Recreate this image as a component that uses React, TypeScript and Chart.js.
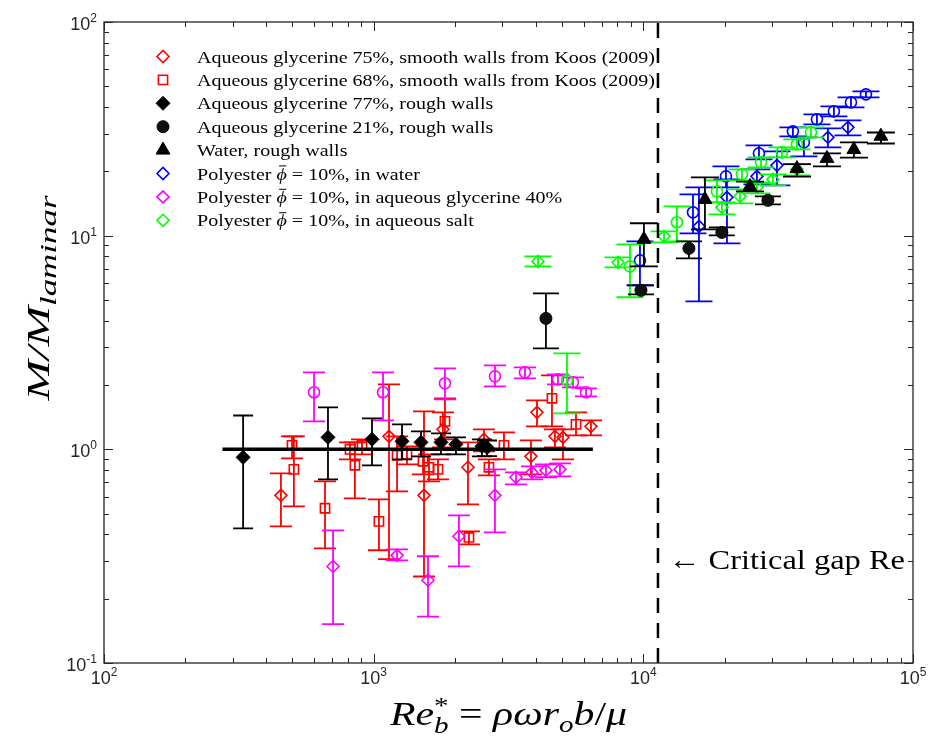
import React, { useEffect, useRef } from 'react';
import { Chart, registerables } from 'chart.js';
Chart.register(...registerables);

// ---------------- DATA ----------------
// Aqueous glycerine 75%, smooth walls (Koos 2009) – open red diamonds
const redDiamondX = [453, 1140, 1537, 1807, 2237, 2564, 3831, 4033, 4702, 5035, 6394];
const redDiamondY = [0.609, 1.15, 0.609, 1.24, 0.824, 1.114, 0.927, 1.49, 1.15, 1.138, 1.281];
const redDiamondLo = [0.436, 0.306, 0.254, 1.022, 0.553, 0.979, 0.764, 1.281, 1.022, 0.898, 1.163];
const redDiamondHi = [0.772, 2.015, 1.506, 1.49, 1.078, 1.24, 1.102, 1.696, 1.24, 1.24, 1.367];

// Aqueous glycerine 68%, smooth walls (Koos 2009) – open red squares
const redSquareX = [498, 506, 660, 817, 852, 905, 1046, 1221, 1329, 1524, 1604, 1732, 1838, 2256, 2676, 3042, 4583, 5627];
const redSquareY = [1.044, 0.806, 0.53, 1.0, 0.842, 1.044, 0.46, 0.937, 0.947, 0.879, 0.824, 0.806, 1.352, 0.387, 0.824, 1.044, 1.733, 1.309];
const redSquareLo = [0.908, 0.541, 0.344, 0.898, 0.59, 0.947, 0.337, 0.636, 0.851, 0.764, 0.708, 0.724, 1.114, 0.359, 0.756, 0.898, 1.281, 1.163];
const redSquareHi = [1.15, 1.15, 0.708, 1.078, 1.078, 1.114, 0.583, 1.15, 1.033, 1.0, 0.947, 0.898, 1.733, 0.413, 0.898, 1.201, 2.22, 1.49];

// Aqueous glycerine 77%, rough walls – filled black diamonds
const blackDiamondX = [328, 677, 986, 1274, 1498, 1777, 2019, 2521, 2632];
const blackDiamondY = [0.917, 1.138, 1.114, 1.09, 1.078, 1.078, 1.055, 1.033, 1.02];
const blackDiamondLo = [0.427, 0.724, 0.842, 0.898, 0.927, 0.947, 0.947, 0.927, 0.93];
const blackDiamondHi = [1.44, 1.572, 1.397, 1.309, 1.214, 1.188, 1.138, 1.114, 1.1];

// Aqueous glycerine 21%, rough walls – filled black circles
const blackCircleX = [4353, 9800, 14760, 19550, 28970];
const blackCircleY = [4.1, 5.55, 8.72, 10.36, 14.63];
const blackCircleLo = [2.97, 5.31, 7.83, 10.03, 14.0];
const blackCircleHi = [5.37, 5.85, 9.4, 10.93, 15.27];

// Water, rough walls – filled black triangles
const blackTriangleX = [10050, 16920, 24850, 37120, 47960, 60370, 76030];
const blackTriangleY = [9.61, 14.78, 17.0, 20.6, 23.0, 25.3, 29.2];
const blackTriangleLo = [7.18, 10.7, 16.1, 18.9, 21.1, 23.2, 27.0];
const blackTriangleHi = [11.43, 18.75, 17.9, 21.6, 24.3, 27.3, 30.4];

// Polyester in water – blue
const blueCircleX = [9716, 15280, 20250, 26840, 35860, 39400, 44030, 50900, 58880, 66920];
const blueCircleY = [7.66, 12.86, 18.95, 24.28, 30.77, 27.34, 35.03, 38.18, 42.07, 45.86];
const blueCircleLo = [5.86, 10.25, 16.83, 22.76, 29.16, 23.5, 33.19, 36.17, 39.86, 44.41];
const blueCircleHi = [9.41, 15.61, 21.11, 26.47, 32.14, 28.85, 36.97, 40.3, 44.41, 47.36];
const blueDiamondX = [16080, 20420, 26380, 31290, 48360, 57380];
const blueDiamondY = [11.06, 15.11, 18.95, 21.34, 28.85, 32.14];
const blueDiamondLo = [4.93, 9.21, 17.39, 17.2, 25.91, 29.48];
const blueDiamondHi = [16.83, 18.34, 20.43, 24.81, 31.79, 34.65];

// Polyester in aqueous glycerine 40% – magenta
const magentaCircleX = [601, 1083, 1838, 2817, 3639, 4824, 5483, 6130];
const magentaCircleY = [1.849, 1.849, 2.037, 2.196, 2.293, 2.126, 2.059, 1.849];
const magentaCircleLo = [1.352, 1.367, 1.714, 1.972, 2.149, 2.015, 1.951, 1.77];
const magentaCircleHi = [2.293, 2.293, 2.393, 2.473, 2.42, 2.244, 2.173, 1.93];
const magentaDiamondX = [707, 1221, 1590, 2071, 2817, 3371, 3864, 4353, 4907];
const magentaDiamondY = [0.283, 0.319, 0.244, 0.392, 0.609, 0.74, 0.78, 0.797, 0.806];
const magentaDiamondLo = [0.152, 0.302, 0.165, 0.283, 0.409, 0.686, 0.724, 0.74, 0.747];
const magentaDiamondHi = [0.418, 0.34, 0.316, 0.491, 0.806, 0.78, 0.833, 0.851, 0.86];

// Polyester in aqueous salt – green
const greenCircleX = [5210, 8920, 13320, 18750, 23210, 27310, 32660, 37120, 41840];
const greenCircleY = [2.103, 7.18, 11.55, 16.13, 19.36, 22.04, 24.55, 26.76, 30.45];
const greenCircleLo = [1.474, 5.15, 9.41, 14.32, 18.15, 20.88, 23.26, 25.35, 28.85];
const greenCircleHi = [2.814, 9.11, 13.72, 18.15, 20.43, 23.26, 25.91, 28.24, 32.14];
const greenDiamondX = [4068, 8054, 11930, 19560, 22820, 26380, 30240, 37120];
const greenDiamondY = [7.58, 7.5, 9.93, 13.57, 15.28, 16.83, 18.34, 20.43];
const greenDiamondLo = [7.18, 7.11, 9.31, 12.58, 14.17, 15.78, 17.2, 19.16];
const greenDiamondHi = [8.0, 7.92, 10.48, 14.32, 16.48, 17.77, 19.36, 21.57];

// laminar reference line and critical gap Reynolds number
const laminarLineX = [275, 6500];
const laminarLineY = [1, 1];
const criticalRe = 11330;
const axisYRange = [0.1, 100];

const xDecades = [2, 3, 4, 5];
const yDecades = [-1, 0, 1, 2];

const legendLabels = [
  'Aqueous glycerine 75%, smooth walls from Koos (2009)',
  'Aqueous glycerine 68%, smooth walls from Koos (2009)',
  'Aqueous glycerine 77%, rough walls',
  'Aqueous glycerine 21%, rough walls',
  'Water, rough walls',
  'Polyester ϕ̄ = 10%, in water',
  'Polyester ϕ̄ = 10%, in aqueous glycerine 40%',
  'Polyester ϕ̄ = 10%, in aqueous salt',
];
const annotationText = '← Critical gap Re';

// ---------------- STYLE ----------------
const SERIF = '"Liberation Serif", "DejaVu Serif", serif';
const SANS = '"Liberation Sans", Arial, sans-serif';
const AXIS = '#262626';
const RED = '#FF0000';
const MAG = '#FF00FF';
const BLUE = '#0000FF';
const GREEN = '#00FF00';
const PHI_BAR = 'ϕ̄';

type Sty = { style: string; r: number; fill: string; color: string; lw: number; cap: number };
const stRedDiamond: Sty = { style: 'rectRot', r: 6, fill: 'rgba(0,0,0,0)', color: RED, lw: 1.6, cap: 22 };
const stRedSquare: Sty = { style: 'rect', r: 6.5, fill: 'rgba(0,0,0,0)', color: RED, lw: 1.6, cap: 22 };
const stBlackDiamond: Sty = { style: 'rectRot', r: 7, fill: '#000', color: '#000', lw: 1, cap: 20 };
const stBlackCircle: Sty = { style: 'circle', r: 6, fill: '#111', color: '#000', lw: 1, cap: 26 };
const stBlackTriangle: Sty = { style: 'triangle', r: 8, fill: '#000', color: '#000', lw: 1, cap: 28 };
const stBlueDiamond: Sty = { style: 'rectRot', r: 6, fill: 'rgba(0,0,0,0)', color: BLUE, lw: 1.6, cap: 27 };
const stBlueCircle: Sty = { style: 'circle', r: 5.5, fill: 'rgba(0,0,0,0)', color: BLUE, lw: 1.6, cap: 27 };
const stMagDiamond: Sty = { style: 'rectRot', r: 6, fill: 'rgba(0,0,0,0)', color: MAG, lw: 1.6, cap: 22 };
const stMagCircle: Sty = { style: 'circle', r: 5.5, fill: 'rgba(0,0,0,0)', color: MAG, lw: 1.6, cap: 22 };
const stGreenDiamond: Sty = { style: 'rectRot', r: 6, fill: 'rgba(0,0,0,0)', color: GREEN, lw: 1.6, cap: 27 };
const stGreenCircle: Sty = { style: 'circle', r: 5.5, fill: 'rgba(0,0,0,0)', color: GREEN, lw: 1.6, cap: 27 };

const legendStyles: Sty[] = [stRedDiamond, stRedSquare, stBlackDiamond, stBlackCircle, stBlackTriangle, stBlueDiamond, stMagDiamond, stGreenDiamond];

function series(label: string, xs: number[], ys: number[], lo: number[], hi: number[], s: Sty, order: number) {
  return {
    label,
    data: xs.map((x, i) => ({ x, y: ys[i] })),
    errLo: lo,
    errHi: hi,
    errColor: s.color,
    capWidth: s.cap,
    pointStyle: s.style,
    pointRadius: s.r,
    pointHoverRadius: s.r,
    pointBackgroundColor: s.fill,
    pointBorderColor: s.color,
    pointBorderWidth: s.lw,
    showLine: false,
    order,
  } as any;
}

const errorBarPlugin = {
  id: 'errorBars',
  beforeDatasetDraw(chart: any, args: any) {
    const ds = chart.data.datasets[args.index];
    if (!ds.errLo) return;
    const { ctx } = chart;
    const xs = chart.scales.x;
    const ys = chart.scales.y;
    ctx.save();
    ctx.strokeStyle = ds.errColor;
    ctx.lineWidth = 1.8;
    const hw = ds.capWidth / 2;
    ds.data.forEach((p: any, i: number) => {
      const px = xs.getPixelForValue(p.x);
      const top = ys.getPixelForValue(ds.errHi[i]);
      const bot = ys.getPixelForValue(ds.errLo[i]);
      ctx.beginPath();
      ctx.moveTo(px, top);
      ctx.lineTo(px, bot);
      ctx.moveTo(px - hw, top);
      ctx.lineTo(px + hw, top);
      ctx.moveTo(px - hw, bot);
      ctx.lineTo(px + hw, bot);
      ctx.stroke();
    });
    ctx.restore();
  },
};

type Seg = { t: string; size: number; italic?: boolean; dy?: number; noAdv?: boolean; bar?: boolean };

function segFont(s: Seg, fam: string) {
  return `${s.italic ? 'italic ' : ''}${s.size}px ${fam}`;
}
function richWidth(ctx: CanvasRenderingContext2D, segs: Seg[], fam: string) {
  let w = 0;
  for (const s of segs) {
    ctx.font = segFont(s, fam);
    if (!s.noAdv) w += ctx.measureText(s.t).width;
  }
  return w;
}
function drawRich(ctx: CanvasRenderingContext2D, segs: Seg[], x: number, y: number, fam: string) {
  let cx = x;
  for (const s of segs) {
    ctx.font = segFont(s, fam);
    const w = ctx.measureText(s.t).width;
    ctx.fillText(s.t, cx, y + (s.dy || 0));
    if (s.bar) {
      ctx.save();
      ctx.strokeStyle = ctx.fillStyle as string;
      ctx.lineWidth = 1;
      ctx.beginPath();
      const by = y + (s.dy || 0) - s.size * 0.8;
      ctx.moveTo(cx + w * 0.25, by);
      ctx.lineTo(cx + w * 0.95, by);
      ctx.stroke();
      ctx.restore();
    }
    if (!s.noAdv) cx += w;
  }
}
// draws rich text so that it spans `target` px horizontally (in the current transform)
function drawRichFit(ctx: CanvasRenderingContext2D, segs: Seg[], cx: number, y: number, fam: string, target: number) {
  const w = richWidth(ctx, segs, fam);
  ctx.save();
  ctx.translate(cx - target / 2, y);
  ctx.scale(target / w, 1);
  drawRich(ctx, segs, 0, 0, fam);
  ctx.restore();
}

function drawMarker(ctx: CanvasRenderingContext2D, s: Sty, x: number, y: number) {
  const r = s.r;
  ctx.save();
  ctx.beginPath();
  if (s.style === 'circle') ctx.arc(x, y, r, 0, Math.PI * 2);
  else if (s.style === 'rect') {
    const h = r * Math.SQRT1_2;
    ctx.rect(x - h, y - h, 2 * h, 2 * h);
  } else if (s.style === 'rectRot') {
    ctx.moveTo(x - r, y);
    ctx.lineTo(x, y - r);
    ctx.lineTo(x + r, y);
    ctx.lineTo(x, y + r);
    ctx.closePath();
  } else if (s.style === 'triangle') {
    const a = (2 * Math.PI) / 3;
    ctx.moveTo(x, y - r);
    ctx.lineTo(x + r * Math.sin(a), y - r * Math.cos(a));
    ctx.lineTo(x - r * Math.sin(a), y - r * Math.cos(a));
    ctx.closePath();
  }
  ctx.fillStyle = s.fill;
  ctx.fill();
  ctx.lineWidth = s.lw;
  ctx.strokeStyle = s.color;
  ctx.stroke();
  ctx.restore();
}

const framePlugin = {
  id: 'frame',
  afterDraw(chart: any) {
    const { ctx, chartArea: a } = chart;
    const xs = chart.scales.x;
    const ys = chart.scales.y;
    ctx.save();
    // box
    ctx.strokeStyle = AXIS;
    ctx.lineWidth = 1.3;
    ctx.strokeRect(a.left, a.top, a.right - a.left, a.bottom - a.top);
    // ticks
    ctx.lineWidth = 1;
    ctx.beginPath();
    for (let d = xDecades[0]; d <= xDecades[xDecades.length - 1]; d++) {
      for (let m = 1; m <= 9; m++) {
        const v = m * Math.pow(10, d);
        if (v > Math.pow(10, xDecades[xDecades.length - 1])) break;
        const px = Math.round(xs.getPixelForValue(v)) + 0.5;
        const len = m === 1 ? 9 : 5;
        ctx.moveTo(px, a.bottom);
        ctx.lineTo(px, a.bottom - len);
        ctx.moveTo(px, a.top);
        ctx.lineTo(px, a.top + len);
      }
    }
    for (let d = yDecades[0]; d <= yDecades[yDecades.length - 1]; d++) {
      for (let m = 1; m <= 9; m++) {
        const v = m * Math.pow(10, d);
        if (v > Math.pow(10, yDecades[yDecades.length - 1])) break;
        const py = Math.round(ys.getPixelForValue(v)) + 0.5;
        const len = m === 1 ? 9 : 5;
        ctx.moveTo(a.left, py);
        ctx.lineTo(a.left + len, py);
        ctx.moveTo(a.right, py);
        ctx.lineTo(a.right - len, py);
      }
    }
    ctx.stroke();

    // tick labels
    ctx.fillStyle = AXIS;
    ctx.textBaseline = 'alphabetic';
    ctx.textAlign = 'left';
    for (const e of xDecades) {
      const segs: Seg[] = [
        { t: '10', size: 18 },
        { t: String(e), size: 12, dy: -8 },
      ];
      const w = richWidth(ctx, segs, SANS);
      const px = xs.getPixelForValue(Math.pow(10, e));
      drawRich(ctx, segs, px - w / 2, a.bottom + 21, SANS);
    }
    for (const e of yDecades) {
      const segs: Seg[] = [
        { t: '10', size: 18 },
        { t: String(e), size: 12, dy: -8 },
      ];
      const w = richWidth(ctx, segs, SANS);
      const py = ys.getPixelForValue(Math.pow(10, e));
      drawRich(ctx, segs, a.left - 7 - w, py + 8, SANS);
    }

    // x title
    ctx.fillStyle = '#000';
    const xt: Seg[] = [
      { t: 'Re', size: 33, italic: true },
      { t: '*', size: 23, dy: -12, noAdv: true },
      { t: 'b', size: 23, italic: true, dy: 8 },
      { t: ' = ', size: 33 },
      { t: 'ρωr', size: 33, italic: true },
      { t: 'o', size: 23, italic: true, dy: 7 },
      { t: 'b', size: 33, italic: true },
      { t: '/', size: 33 },
      { t: 'μ', size: 33, italic: true },
    ];
    drawRichFit(ctx, xt, (a.left + a.right) / 2, 725, SERIF, 237);

    // y title
    const yt: Seg[] = [
      { t: 'M/M', size: 32, italic: true },
      { t: 'laminar', size: 23, italic: true, dy: 7 },
    ];
    ctx.save();
    ctx.translate(49, 298);
    ctx.rotate(-Math.PI / 2);
    drawRichFit(ctx, yt, 0, 0, SERIF, 205);
    ctx.restore();

    // annotation
    ctx.font = `28px ${SERIF}`;
    const aw = ctx.measureText(annotationText).width;
    ctx.save();
    ctx.translate(xs.getPixelForValue(criticalRe) + 10, 569);
    ctx.scale(237 / aw, 1);
    ctx.fillText(annotationText, 0, 0);
    ctx.restore();

    // legend
    const legendFam = SERIF;
    const firstSegs: Seg[] = [{ t: legendLabels[0], size: 17 }];
    const lw0 = richWidth(ctx, firstSegs, legendFam);
    const sx = 458 / lw0;
    legendLabels.forEach((lab, i) => {
      const rowY = 56.5 + i * 23.4;
      drawMarker(ctx, legendStyles[i], 163, rowY);
      const parts = lab.split(PHI_BAR);
      const segs: Seg[] = [];
      parts.forEach((p, j) => {
        if (j > 0) segs.push({ t: PHI_BAR.charAt(0), size: 17, italic: true, bar: true });
        if (p) segs.push({ t: p, size: 17 });
      });
      ctx.save();
      ctx.translate(197, rowY + 6);
      ctx.scale(sx, 1);
      ctx.fillStyle = '#000';
      drawRich(ctx, segs, 0, 0, legendFam);
      ctx.restore();
    });
    ctx.restore();
  },
};

export default function App() {
  const ref = useRef<HTMLCanvasElement>(null);
  useEffect(() => {
    document.body.style.margin = '0';
    const canvas = ref.current!;
    const datasets: any[] = [
      {
        label: 'laminar',
        data: laminarLineX.map((x, i) => ({ x, y: laminarLineY[i] })),
        showLine: true,
        borderColor: '#000',
        borderWidth: 3.5,
        pointRadius: 0,
        order: 0,
      },
      {
        label: 'critical',
        data: axisYRange.map((y) => ({ x: criticalRe, y })),
        showLine: true,
        borderColor: '#000',
        borderWidth: 2.5,
        borderDash: [15, 10],
        pointRadius: 0,
        order: 0,
      },
      series('Water, rough walls', blackTriangleX, blackTriangleY, blackTriangleLo, blackTriangleHi, stBlackTriangle, 1),
      series('Aqueous glycerine 21%', blackCircleX, blackCircleY, blackCircleLo, blackCircleHi, stBlackCircle, 2),
      series('Aqueous glycerine 77%', blackDiamondX, blackDiamondY, blackDiamondLo, blackDiamondHi, stBlackDiamond, 3),
      series('Salt circles', greenCircleX, greenCircleY, greenCircleLo, greenCircleHi, stGreenCircle, 4),
      series('Salt diamonds', greenDiamondX, greenDiamondY, greenDiamondLo, greenDiamondHi, stGreenDiamond, 5),
      series('Water circles', blueCircleX, blueCircleY, blueCircleLo, blueCircleHi, stBlueCircle, 6),
      series('Water diamonds', blueDiamondX, blueDiamondY, blueDiamondLo, blueDiamondHi, stBlueDiamond, 7),
      series('Glycerine 40% circles', magentaCircleX, magentaCircleY, magentaCircleLo, magentaCircleHi, stMagCircle, 8),
      series('Glycerine 40% diamonds', magentaDiamondX, magentaDiamondY, magentaDiamondLo, magentaDiamondHi, stMagDiamond, 9),
      series('Aqueous glycerine 68%', redSquareX, redSquareY, redSquareLo, redSquareHi, stRedSquare, 10),
      series('Aqueous glycerine 75%', redDiamondX, redDiamondY, redDiamondLo, redDiamondHi, stRedDiamond, 11),
    ];
    const chart = new Chart(canvas, {
      type: 'scatter',
      data: { datasets },
      options: {
        animation: false,
        responsive: false,
        maintainAspectRatio: false,
        events: [],
        layout: { padding: { left: 104, right: 18, top: 22, bottom: 75 } },
        scales: {
          x: { type: 'logarithmic', min: 100, max: 100000, display: false },
          y: { type: 'logarithmic', min: axisYRange[0], max: axisYRange[1], display: false },
        },
        plugins: { legend: { display: false }, tooltip: { enabled: false } },
      },
      plugins: [errorBarPlugin, framePlugin],
    } as any);
    return () => chart.destroy();
  }, []);
  return (
    <div style={{ width: 931, height: 738 }}>
      <canvas ref={ref} width={931} height={738} style={{ display: 'block', width: 931, height: 738 }} />
    </div>
  );
}
